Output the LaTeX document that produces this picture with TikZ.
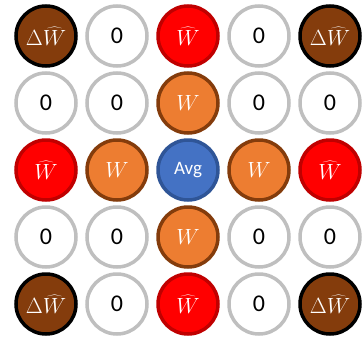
\RequirePackage{fix-cm}
\documentclass[tikz,border=0pt]{standalone}
\usepackage{fontspec}
\setmainfont{Carlito}
\definecolor{dwfill}{HTML}{843C0C}
\definecolor{redline}{HTML}{C00000}
\definecolor{orfill}{HTML}{ED7D31}
\definecolor{orline}{HTML}{843C0C}
\definecolor{avgfill}{HTML}{4472C4}
\definecolor{avgline}{HTML}{2F5597}
\definecolor{zeroline}{HTML}{BFBFBF}
\tikzset{
  cell/.style={circle,minimum size=60pt,inner sep=0pt,line width=3.5pt,font=\fontsize{22}{26}\selectfont},
  dw/.style={cell,draw=black,fill=dwfill,text=white},
  zero/.style={cell,draw=zeroline,fill=white,text=black,font=\fontsize{24}{28}\selectfont},
  what/.style={cell,draw=redline,fill=red,text=white},
  wnode/.style={cell,draw=orline,fill=orfill,text=white},
  avg/.style={cell,draw=avgline,fill=avgfill,text=white,font=\fontsize{19}{22}\selectfont}
}
\begin{document}
\begin{tikzpicture}[x=1pt,y=-1pt]
\useasboundingbox(0,0)rectangle(363,340);
% row 1
\node[dw](n11)at(46,36){$\Delta\widehat{W}$};
\node[zero](n12)at(117,36){0};
\node[what](n13)at(188,36){$\widehat{W}$};
\node[zero](n14)at(259,36){0};
\node[dw](n15)at(330,36){$\Delta\widehat{W}$};
% row 2
\node[zero](n21)at(46,103){0};
\node[zero](n22)at(117,103){0};
\node[wnode](n23)at(188,103){$W$};
\node[zero](n24)at(259,103){0};
\node[zero](n25)at(330,103){0};
% row 3
\node[what](n31)at(46,170){$\widehat{W}$};
\node[wnode](n32)at(117,170){$W$};
\node[avg](n33)at(188,170){Avg};
\node[wnode](n34)at(259,170){$W$};
\node[what](n35)at(330,170){$\widehat{W}$};
% row 4
\node[zero](n41)at(46,237){0};
\node[zero](n42)at(117,237){0};
\node[wnode](n43)at(188,237){$W$};
\node[zero](n44)at(259,237){0};
\node[zero](n45)at(330,237){0};
% row 5
\node[dw](n51)at(46,304){$\Delta\widehat{W}$};
\node[zero](n52)at(117,304){0};
\node[what](n53)at(188,304){$\widehat{W}$};
\node[zero](n54)at(259,304){0};
\node[dw](n55)at(330,304){$\Delta\widehat{W}$};
\end{tikzpicture}
\end{document}
